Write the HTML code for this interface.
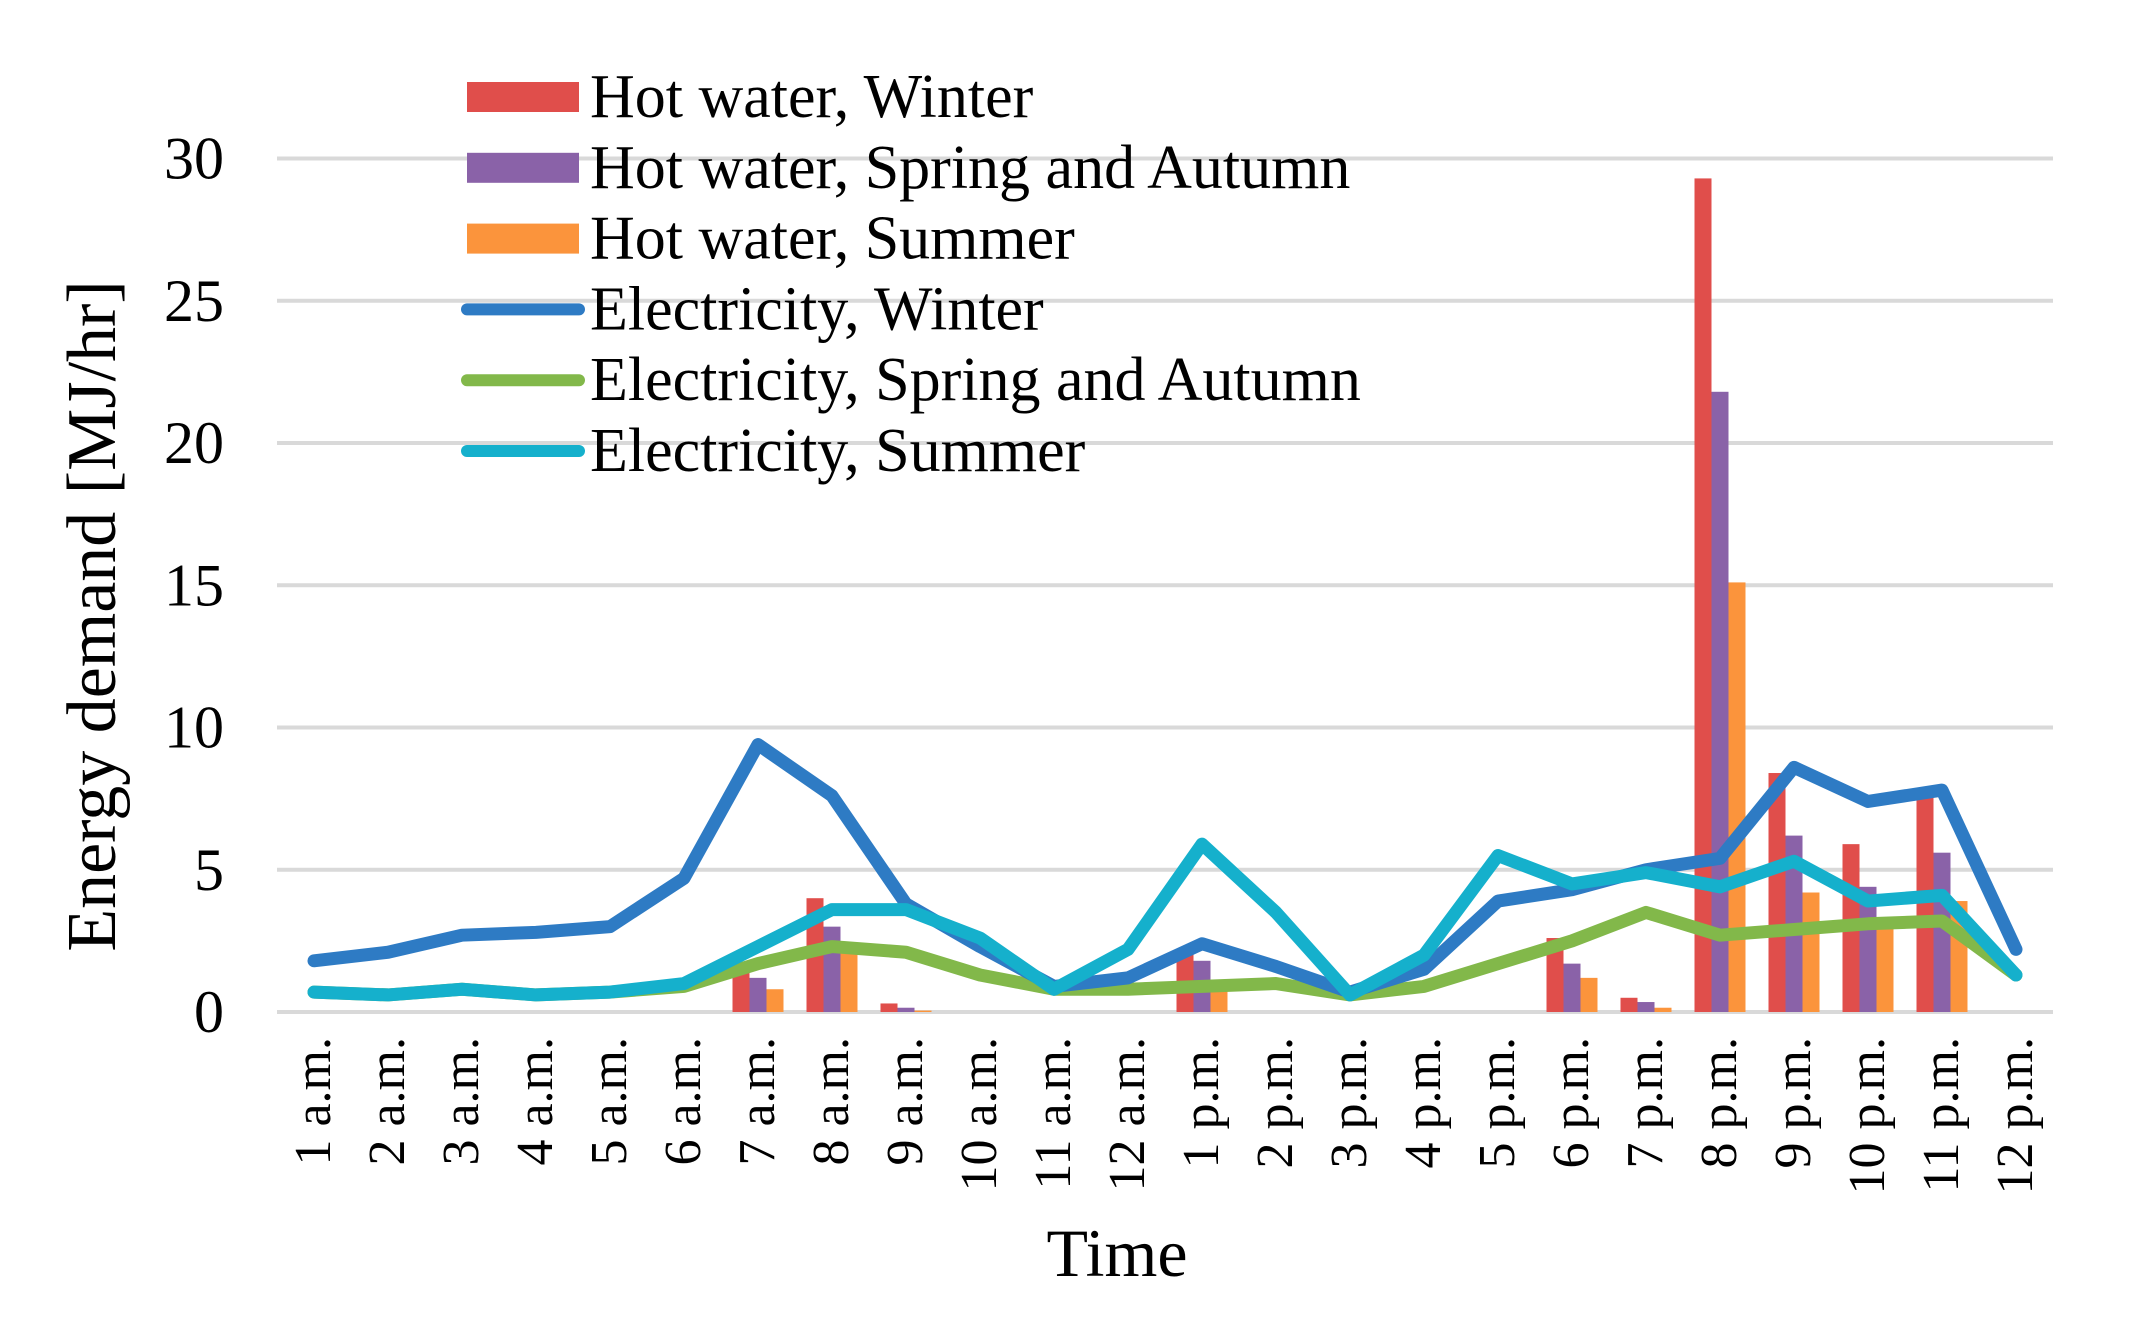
<!DOCTYPE html>
<html><head><meta charset="utf-8"><style>
html,body{margin:0;padding:0;background:#fff;}
svg{display:block;font-family:"Liberation Serif",serif;}
</style></head><body>
<svg id="chart" width="2129" height="1341" viewBox="0 0 2129 1341" xmlns="http://www.w3.org/2000/svg"></svg>
<script>
const categories=["1 a.m.","2 a.m.","3 a.m.","4 a.m.","5 a.m.","6 a.m.","7 a.m.","8 a.m.","9 a.m.","10 a.m.","11 a.m.","12 a.m.","1 p.m.","2 p.m.","3 p.m.","4 p.m.","5 p.m.","6 p.m.","7 p.m.","8 p.m.","9 p.m.","10 p.m.","11 p.m.","12 p.m."];
const hwWinter=[0,0,0,0,0,0,1.6,4.0,0.3,0,0,0,2.2,0,0,0,0,2.6,0.5,29.3,8.4,5.9,7.6,0];
const hwSpring=[0,0,0,0,0,0,1.2,3.0,0.15,0,0,0,1.8,0,0,0,0,1.7,0.35,21.8,6.2,4.4,5.6,0];
const hwSummer=[0,0,0,0,0,0,0.8,2.3,0.05,0,0,0,0.8,0,0,0,0,1.2,0.15,15.1,4.2,3.0,3.9,0];
const elWinter=[1.8,2.1,2.7,2.8,3.0,4.7,9.4,7.6,3.8,2.3,0.9,1.2,2.4,1.6,0.7,1.5,3.9,4.3,5.0,5.4,8.6,7.4,7.8,2.2];
const elSpring=[0.7,0.6,0.8,0.6,0.7,0.9,1.7,2.3,2.1,1.3,0.8,0.8,0.9,1.0,0.6,0.9,1.7,2.5,3.5,2.7,2.9,3.1,3.2,1.3];
const elSummer=[0.7,0.6,0.8,0.6,0.7,1.0,2.3,3.6,3.6,2.6,0.8,2.2,5.9,3.5,0.6,2.0,5.5,4.5,4.9,4.4,5.3,3.9,4.1,1.3];
const yTicks=[0,5,10,15,20,25,30];

const NS="http://www.w3.org/2000/svg";
const svg=document.getElementById('chart');
const X0=277,X1=2053,Y0=1012,PPU=28.45;
const step=(X1-X0)/categories.length;
const xc=i=>X0+step*(i+0.5);
const y=v=>Y0-v*PPU;
function mk(tag,attrs,parent){const e=document.createElementNS(NS,tag);for(const k in attrs)e.setAttribute(k,attrs[k]);(parent||svg).appendChild(e);return e;}

yTicks.forEach(t=>{
  const g=mk('line',{x1:X0,x2:X1,y1:y(t),y2:y(t),stroke:'#d9d9d9','stroke-width':4});
  
  
  const l=mk('text',{x:224,y:y(t)+20,'text-anchor':'end','font-size':60,fill:'#000'});
  l.textContent=t;
  
  
});

const bw=17;
const barSeries=[[hwWinter,'#e04e4b','hw-winter'],[hwSpring,'#8a62a8','hw-spring'],[hwSummer,'#fb943c','hw-summer']];
barSeries.forEach((s,k)=>{
  s[0].forEach((v,i)=>{
    if(v<=0)return;
    const r=mk('rect',{x:xc(i)-1.5*bw+k*bw,y:y(v),width:bw,height:v*PPU,fill:s[1]});
    
    
  });
});

const lineSeries=[[elSpring,'#82b84a','el-spring'],[elWinter,'#2e7bc4','el-winter'],[elSummer,'#15b0cc','el-summer']];
lineSeries.forEach(s=>{
  const pts=s[0].map((v,i)=>xc(i)+','+y(v)).join(' ');
  const p=mk('polyline',{points:pts,fill:'none',stroke:s[1],'stroke-width':13,'stroke-linejoin':'round','stroke-linecap':'round'});
  
  
});

categories.forEach((c,i)=>{
  const t=mk('text',{transform:'translate('+(xc(i)+16)+',1037) rotate(-90)','text-anchor':'end','font-size':52,fill:'#000'});
  t.textContent=c;
  
  
});

const yt=mk('text',{transform:'translate(115,616) rotate(-90)','text-anchor':'middle','font-size':70,fill:'#000'});
yt.textContent='Energy demand [MJ/hr]';


const xt=mk('text',{x:1117,y:1276,'text-anchor':'middle','font-size':68,fill:'#000'});
xt.textContent='Time';



const legend=[['Hot water, Winter','#e04e4b','bar'],['Hot water, Spring and Autumn','#8a62a8','bar'],['Hot water, Summer','#fb943c','bar'],['Electricity, Winter','#2e7bc4','line'],['Electricity, Spring and Autumn','#82b84a','line'],['Electricity, Summer','#15b0cc','line']];
legend.forEach((l,i)=>{
  const cy=97+i*70.8;
  let sw;
  if(l[2]==='bar') sw=mk('rect',{x:467,y:cy-15,width:112,height:30,fill:l[1]});
  else sw=mk('line',{x1:467,x2:579,y1:cy,y2:cy,stroke:l[1],'stroke-width':12,'stroke-linecap':'round'});
  
  
  const t=mk('text',{x:590,y:cy+20,'font-size':62,fill:'#000'});
  t.textContent=l[0];
  
  
});
</script>
</body></html>
